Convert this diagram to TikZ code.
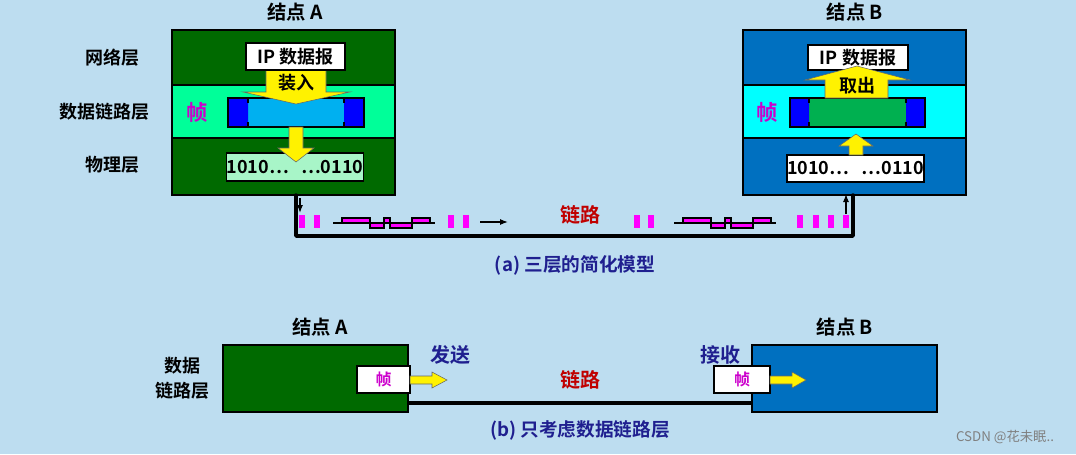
\documentclass[tikz,border=0pt]{standalone}
\usepackage{fontspec}
\setmainfont{Noto Sans CJK SC}[BoldFont={Noto Sans CJK SC Bold}]
\usetikzlibrary{arrows.meta}
\begin{document}
\begin{tikzpicture}[x=0.75pt,y=-0.75pt,
  t/.style={font=\bfseries\fontsize{14.5}{16}\selectfont},
  lab/.style={font=\bfseries\fontsize{13.5}{15}\selectfont},
  navy/.style={font=\bfseries\fontsize{14}{16}\selectfont,text=navyc},
  box/.style={draw=black,line width=1.2pt},
  yarr/.style={fill=yellow,draw=black!60,line width=0.4pt},
  wave/.style={draw=black,line width=0.8pt,fill=mgf},
  sarr/.style={-{Latex[length=6pt,width=4.5pt]},line width=0.9pt},
  link/.style={line width=2.6pt,line cap=round,line join=round}]
\definecolor{bg}{HTML}{BDDDF0}
\definecolor{dg}{HTML}{006A00}
\definecolor{mint}{HTML}{00FF99}
\definecolor{bl}{HTML}{0070C0}
\definecolor{cy}{HTML}{00FFFF}
\definecolor{lb}{HTML}{00B0F0}
\definecolor{gr}{HTML}{00B050}
\definecolor{pg}{HTML}{A8F5C8}
\definecolor{navyc}{HTML}{1F1F8F}
\definecolor{redc}{HTML}{C00000}
\definecolor{mg}{HTML}{CC00CC}
\definecolor{mgf}{HTML}{FF00FF}
\fill[bg] (0,0) rectangle (1076,454);
\useasboundingbox (0,0) rectangle (1076,454);
% ---------- node A (a)
\node[t] (tA) at (295,12) {结点 A};
\fill[dg] (172,30) rectangle (395,195);
\fill[mint] (172,85) rectangle (395,138);
\draw[box] (172,30) rectangle (395,195);
\draw[line width=1.2pt] (172,85) -- (395,85) (172,138) -- (395,138);
\node[lab] (l1) at (112,58) {网络层};
\node[lab] (l2) at (105,112) {数据链路层};
\node[lab] (l3) at (112,165) {物理层};
\node[lab,text=mg,font=\bfseries\fontsize{16}{18}\selectfont] (fA) at (197,112) {帧};
% frame A
\fill[lb] (228,98) rectangle (364,127);
\fill[blue] (228,98) rectangle (248,127) (344,98) rectangle (364,127);
\draw[line width=1.2pt] (228,98) rectangle (364,127);
\draw[line width=1pt] (248,98)--(248,103) (248,122)--(248,127) (344,98)--(344,103) (344,122)--(344,127);
% down arrow 装入
\draw[yarr] (266,70) -- (326,70) -- (326,92) -- (350,92) -- (296,104) -- (243,92) -- (266,92) -- cycle;
\node[lab] (zr) at (296,83) {装入};
\node[box,fill=white,minimum width=99pt*0.75,minimum height=27pt*0.75,inner sep=0pt,lab] (ipA) at (295.5,56.5) {IP 数据报};
% phys A
\node[box,fill=pg,minimum width=136pt*0.75,minimum height=28pt*0.75,inner sep=0pt,lab] (pA) at (295,167) {1010…\ \ \ …0110};
\draw[yarr] (289,127) -- (303,127) -- (303,148) -- (314,148) -- (296,162) -- (278,148) -- (289,148) -- cycle;
% ---------- node B (a)
\node[t] (tB) at (855,12) {结点 B};
\fill[bl] (743,30) rectangle (966,195);
\fill[cy] (743,85) rectangle (966,138);
\draw[box] (743,30) rectangle (966,195);
\draw[line width=1.2pt] (743,85) -- (966,85) (743,138) -- (966,138);
\node[lab,text=mg,font=\bfseries\fontsize{16}{18}\selectfont] (fB) at (767,112) {帧};
\fill[gr] (790,98) rectangle (925,127);
\fill[blue] (790,98) rectangle (809,127) (906,98) rectangle (925,127);
\draw[line width=1.2pt] (790,98) rectangle (925,127);
\draw[line width=1pt] (809,98)--(809,103) (809,122)--(809,127) (906,98)--(906,103) (906,122)--(906,127);
\node[box,fill=white,minimum width=100pt*0.75,minimum height=25pt*0.75,inner sep=0pt,lab] (ipB) at (858,57.5) {IP 数据报};
\draw[yarr] (825,98) -- (888,98) -- (888,80) -- (910,80) -- (857,66) -- (805,80) -- (825,80) -- cycle;
\node[lab] (qc) at (857,86) {取出};
\node[box,fill=white,minimum width=135pt*0.75,minimum height=27pt*0.75,inner sep=0pt,lab] (pB) at (855.5,168.5) {1010…\ \ \ …0110};
\draw[yarr] (849,155) -- (863,155) -- (863,146) -- (873,146) -- (856,134) -- (839,146) -- (849,146) -- cycle;
% ---------- link (a)
\coordinate (la) at (296,195);
\coordinate (lb) at (853,195);
\draw[link] (la) -- (296,236) -- (853,236) -- (lb);
\draw[sarr] (300,198) -- (300,213);
\draw[sarr] (846,214) -- (846,194);
\foreach \x in {302,317,451,466,637,651,800,816,831,846}
  \fill[mgf] (\x-3,215) rectangle (\x+3,228);
\foreach \o in {0,341}{
\begin{scope}[xshift=\o*0.75pt]
\draw[line width=0.8pt] (333,223) -- (342,223) (430,223) -- (435,223);
\draw[wave] (342,218) rectangle (370,223);
\draw[wave] (370,223) rectangle (384,228);
\draw[wave] (384,218) rectangle (390,223);
\draw[wave] (390,223) rectangle (412,228);
\draw[wave] (412,218) rectangle (430,223);
\end{scope}}
\draw[sarr] (480,222) -- (508,222);
\node[lab,text=redc,font=\bfseries\fontsize{15}{17}\selectfont] (ll) at (580,215) {链路};
\node[navy] (ca) at (575,265) {(a) 三层的简化模型};
% ---------- part (b)
\node[t] (tA2) at (320,327) {结点 A};
\node[t] (tB2) at (845,327) {结点 B};
\node[lab,align=center,font=\bfseries\fontsize{13.5}{19}\selectfont] (dl) at (182,378) {数据\\链路层};
\draw[link,line cap=butt] (408,403) -- (752,403);
\node[draw=black,line width=0.8pt,fill=dg,minimum width=185pt*0.75,minimum height=67pt*0.75,inner sep=0pt] (A2) at (315.5,378.5) {};
\node[draw=black,line width=0.8pt,fill=bl,minimum width=185pt*0.75,minimum height=67pt*0.75,inner sep=0pt] (B2) at (844.5,378.5) {};
\node[draw=black,line width=0.8pt,fill=white,minimum width=53pt*0.75,minimum height=27pt*0.75,inner sep=0pt,text=mg,font=\bfseries\fontsize{12}{14}\selectfont] (fA2) at (383.5,379.5) {帧};
\node[draw=black,line width=0.8pt,fill=white,minimum width=56pt*0.75,minimum height=27pt*0.75,inner sep=0pt,text=mg,font=\bfseries\fontsize{12}{14}\selectfont] (fB2) at (742,379.5) {帧};
\draw[yarr] (410,376) -- (432,376) -- (432,372) -- (447,380) -- (432,388) -- (432,384) -- (410,384) -- cycle;
\draw[yarr] (770,376) -- (792,376) -- (792,372) -- (806,380) -- (792,388) -- (792,384) -- (770,384) -- cycle;
\node[navy,font=\bfseries\fontsize{15}{17}\selectfont] (fs) at (450,355) {发送};
\node[navy,font=\bfseries\fontsize{15}{17}\selectfont] (js) at (720,355) {接收};
\node[lab,text=redc,font=\bfseries\fontsize{15}{17}\selectfont] (ll2) at (580,380) {链路};
\node[navy] (cb) at (580,430) {(b) 只考虑数据链路层};
\node[text=gray,font=\fontsize{10}{12}\selectfont] (wm) at (1005,437) {CSDN @花未眠..};
\end{tikzpicture}
\end{document}
